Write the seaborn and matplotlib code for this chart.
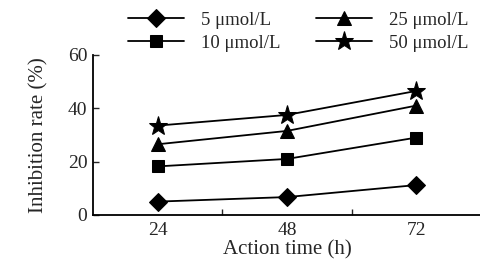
import pandas as pd
import seaborn as sns
import matplotlib.pyplot as plt

hours = [24, 48, 72]
conc_labels = ['5 μmol/L', '10 μmol/L', '25 μmol/L', '50 μmol/L']
rate_5 = [5.0, 6.7, 11.2]
rate_10 = [18.2, 21.0, 29.0]
rate_25 = [26.5, 31.5, 41.0]
rate_50 = [33.5, 37.5, 46.5]

rows = []
for lab, vals in zip(conc_labels, [rate_5, rate_10, rate_25, rate_50]):
    for h, v in zip(hours, vals):
        rows.append({'Time': h, 'Rate': v, 'Conc': lab})
df = pd.DataFrame(rows)

sns.set_style('ticks')
plt.rcParams['font.family'] = ['Liberation Serif', 'DejaVu Serif']

fig = plt.figure(figsize=(4.81, 2.68), dpi=100)
ax = fig.add_axes([0.193, 0.198, 0.807, 0.597])

markers = {'5 μmol/L': 'D', '10 μmol/L': 's', '25 μmol/L': '^', '50 μmol/L': '*'}
sizes = {'5 μmol/L': 9, '10 μmol/L': 9, '25 μmol/L': 10, '50 μmol/L': 14}
for lab in conc_labels:
    sub = df[df['Conc'] == lab]
    sns.lineplot(data=sub, x='Time', y='Rate', ax=ax, color='black',
                 marker=markers[lab], markersize=sizes[lab], linewidth=1.3,
                 markeredgecolor='black', label=lab, legend=False)

ax.set_xlim(12, 84)
ax.set_ylim(0, 60)
ax.set_xticks(hours)
ax.set_xticks([36, 60], minor=True)
ax.set_yticks([0, 20, 40, 60])
ax.tick_params(axis='x', which='major', length=0, labelsize=14, pad=5)
ax.tick_params(axis='x', which='minor', direction='in', length=4, width=1)
ax.tick_params(axis='y', direction='in', length=4, width=1, labelsize=14, pad=4)
for s in ['top', 'right']:
    ax.spines[s].set_visible(False)
for s in ['left', 'bottom']:
    ax.spines[s].set_linewidth(1.3)
    ax.spines[s].set_color('black')

ax.set_xlabel('Action time (h)', fontsize=15, labelpad=1)
ax.set_ylabel('Inhibition rate (%)', fontsize=15, labelpad=14)

handles, labels = ax.get_legend_handles_labels()
ax.legend(handles, labels, ncol=2, loc='lower left', bbox_to_anchor=(0.09, 1.02),
          frameon=False, fontsize=13.5, handlelength=3.0, columnspacing=1.9,
          labelspacing=0.3, handletextpad=0.9, borderaxespad=0, borderpad=0)

fig.savefig('out.png', dpi=100)
